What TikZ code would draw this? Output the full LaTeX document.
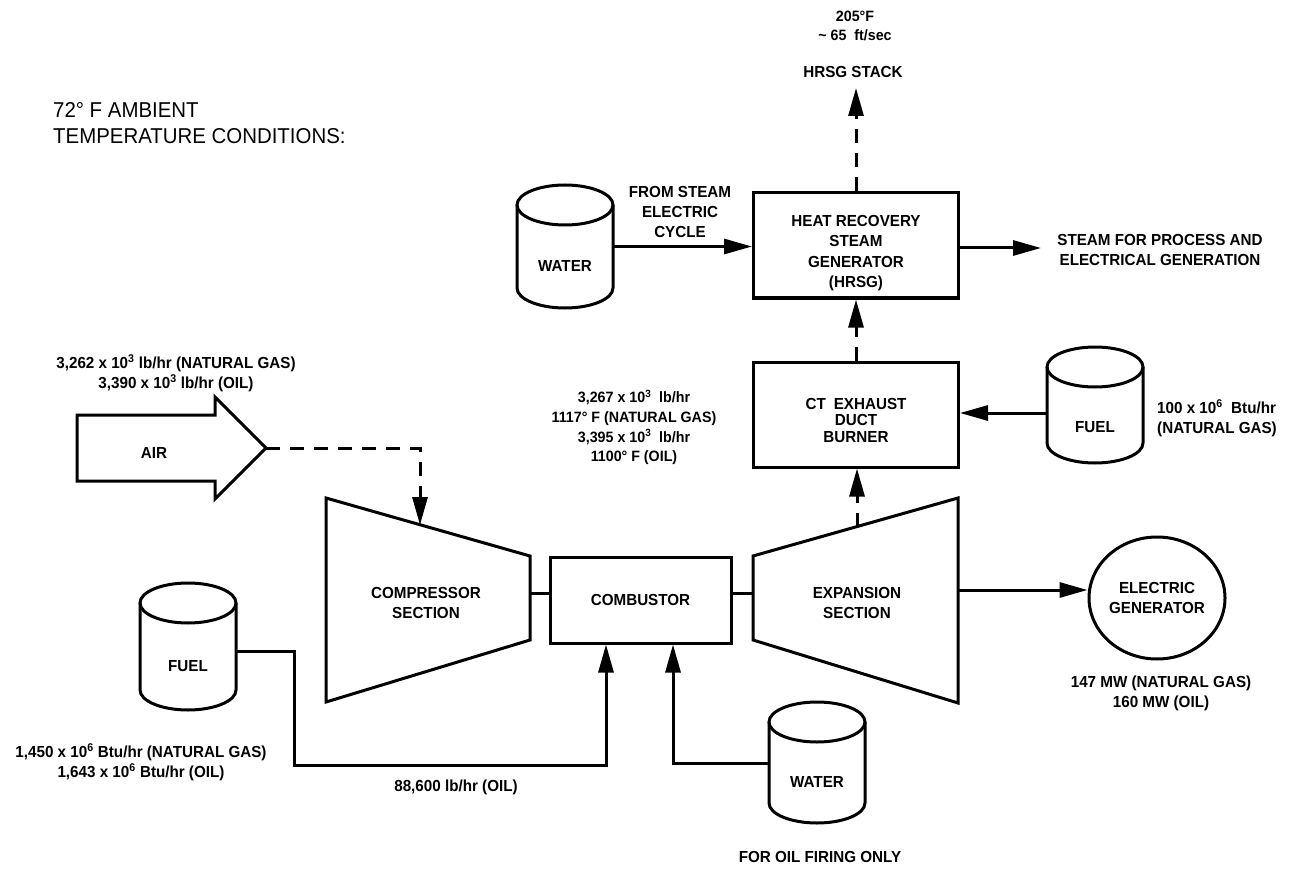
\documentclass[tikz,border=0pt]{standalone}
\usepackage{fontspec}
\setmainfont{Liberation Sans}[FakeStretch=0.95]
\usetikzlibrary{arrows.meta,calc,shapes.geometric}
\newcommand\lf{\fontsize{16}{20}\selectfont\bfseries}
\newcommand\af{\fontsize{15}{19.7}\selectfont\bfseries}
\newcommand\hf{\fontsize{21.5}{26}\selectfont}
\newcommand\sps[1]{\textsuperscript{#1}}
\newcommand\drawtank[1]{%
  \draw[ln] ($(#1.north west)+(0,-20)$) -- ($(#1.south west)+(0,20)$)
     arc[start angle=180,end angle=360,x radius=48,y radius=20]
     -- ($(#1.north east)+(0,-20)$);
  \draw[ln] ($(#1.north)+(0,-20)$) ellipse[x radius=48,y radius=20];
}
\begin{document}
\begin{tikzpicture}[x=1pt,y=1pt,
  ln/.style={line width=3pt},
  arr/.style={line width=3pt,-{Triangle[length=28pt,width=15pt]}},
  dsh/.style={dash pattern=on 14pt off 10pt},
  lbl/.style={font=\lf, align=center, inner sep=0},
  ann/.style={font=\af, align=center, inner sep=0},
  bx/.style={draw, line width=3pt, inner sep=0},
  tank/.style={minimum width=96pt, inner sep=0, outer sep=0},
]
\useasboundingbox (0,0) rectangle (1298,-877);

% heading
\node[font=\hf, align=left, anchor=west, inner sep=0] (head) at (53,-123) {72° F AMBIENT\\TEMPERATURE CONDITIONS:};

% tanks
\node[tank, minimum height=123pt, label={[lbl,yshift=-19pt]center:WATER}] (water1) at (565,-246.5) {};
\node[tank, minimum height=127pt, label={[lbl,yshift=-20pt]center:FUEL}] (fuel1) at (188,-646.5) {};
\node[tank, minimum height=116pt, label={[lbl,yshift=-22pt]center:FUEL}] (fuel2) at (1095,-405) {};
\node[tank, minimum height=121pt, label={[lbl,yshift=-19.5pt]center:WATER}] (water2) at (817,-762.5) {};
\drawtank{water1}
\drawtank{fuel1}
\drawtank{fuel2}
\drawtank{water2}

% boxes
\node[bx, minimum width=205pt, minimum height=105pt] (hrsg) at (856,-245.5) {};
\node[lbl, font=\fontsize{16}{20.3}\selectfont\bfseries] (hrsgtxt) at (856,-253) {HEAT RECOVERY\\STEAM\\GENERATOR\\(HRSG)};
\node[bx, minimum width=205pt, minimum height=105pt] (duct) at (856,-414.5) {};
\node[lbl, font=\fontsize{16}{16.5}\selectfont\bfseries] (ducttxt) at (856,-420) {CT\enspace EXHAUST\\DUCT\\BURNER};
\node[bx, minimum width=181pt, minimum height=86pt, font=\lf] (comb) at (640.5,-600) {COMBUSTOR};
\node[draw, ellipse, line width=3pt, minimum width=136pt, minimum height=122pt, font=\lf, align=center, inner sep=0] (gen) at (1157,-598) {ELECTRIC\\GENERATOR};

% compressor and expansion sections
\coordinate (c1) at (326,-498);
\coordinate (c2) at (530,-556);
\coordinate (c3) at (530,-640);
\coordinate (c4) at (326,-702);
\draw[ln, line join=miter] (c1) -- (c2) -- (c3) -- (c4) -- cycle;
\node[lbl] (compr) at (426,-603) {COMPRESSOR\\SECTION};
\coordinate (e1) at (753,-556);
\coordinate (e2) at (958,-498);
\coordinate (e3) at (958,-703);
\coordinate (e4) at (753,-640);
\draw[ln, line join=miter] (e1) -- (e2) -- (e3) -- (e4) -- cycle;
\node[lbl] (expn) at (857,-603) {EXPANSION\\SECTION};

% air arrow
\draw[ln, line join=miter] (77,-415) -- (215,-415) -- (215,-397) -- (266,-448) -- (215,-499) -- (215,-481) -- (77,-481) -- cycle;
\node[lbl] (air) at (154,-453) {AIR};
\coordinate (airtip) at (266,-448);
\coordinate (compin) at (420,-525);
\draw[arr, dsh] (airtip) -| (compin);

% shaft connections
\coordinate (cR) at (530,-593);
\draw[ln] (cR) -- (cR -| comb.west);
\coordinate (eL) at (753,-593);
\draw[ln] (comb.east |- eL) -- (eL);
\coordinate (eR) at (958,-590);
\draw[arr] (eR) -- (eR -| gen.west);

% exhaust path
\coordinate (eT) at (857,-526.6);
\draw[arr, dsh] (eT) -- (eT |- duct.south);
\draw[arr, dsh] (duct.north) -- (hrsg.south);
\coordinate (stack) at (856,-88);
\draw[arr, dsh] (hrsg.north) -- (stack);

% water / steam
\draw[arr] (water1.east) -- (water1.east -| hrsg.west);
\coordinate (steam) at (1041,-248);
\draw[arr] (hrsg.east |- steam) -- (steam);

% duct burner fuel
\coordinate (f2y) at (0,-413);
\draw[arr] (fuel2.west |- f2y) -- (duct.east |- f2y);

% main fuel line
\coordinate (f1a) at (294,-651);
\coordinate (f1b) at (294,-765);
\coordinate (f1c) at (606,-765);
\draw[arr, line join=miter] (fuel1.east |- f1a) -- (f1a) -- (f1b) -- (f1c) -- (f1c |- comb.south);

% injection water line
\coordinate (w2a) at (673,-763);
\draw[arr, line join=miter] (water2.west |- w2a) -- (w2a) -- (w2a |- comb.south);

% texts
\node[ann] (t205) at (855,-26) {205°F\\\textasciitilde\ 65\ \ ft/sec};
\node[lbl] (tstack) at (853,-72) {HRSG STACK};
\node[lbl] (tfrom) at (680,-212) {FROM STEAM\\ELECTRIC\\CYCLE};
\node[lbl] (tsteam) at (1160,-250) {STEAM FOR PROCESS AND\\ELECTRICAL GENERATION};
\node[lbl, align=left, anchor=west] (tf2) at (1157,-418) {100 x 10\sps{6}\ \ Btu/hr\\(NATURAL GAS)};
\node[lbl] (tair) at (176,-373) {3,262 x 10\sps{3} lb/hr (NATURAL GAS)\\3,390 x 10\sps{3} lb/hr (OIL)};
\node[ann] (texh) at (634,-427.5) {3,267 x 10\sps{3}\ \ lb/hr\\1117° F (NATURAL GAS)\\3,395 x 10\sps{3}\ \ lb/hr\\1100° F (OIL)};
\node[lbl] (tgen) at (1161,-693) {147 MW (NATURAL GAS)\\160 MW (OIL)};
\node[lbl] (tf1) at (141,-762) {1,450 x 10\sps{6} Btu/hr (NATURAL GAS)\\1,643 x 10\sps{6} Btu/hr (OIL)};
\node[lbl] (toil) at (456,-787) {88,600 lb/hr (OIL)};
\node[lbl] (tonly) at (820,-857) {FOR OIL FIRING ONLY};
\end{tikzpicture}
\end{document}
